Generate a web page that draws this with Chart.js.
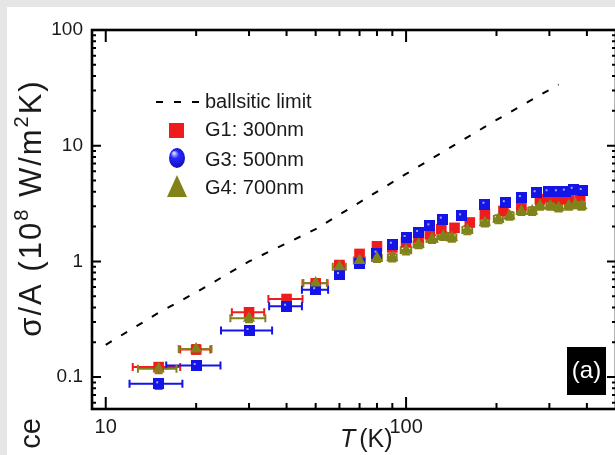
<!DOCTYPE html>
<html>
<head>
<meta charset="utf-8">
<script src="https://cdn.jsdelivr.net/npm/chart.js@4.4.0/dist/chart.umd.min.js"></script>
<style>
  html, body { margin: 0; padding: 0; background: #e6e6e6; overflow: hidden; width: 615px; height: 455px; }
  #wrap { position: absolute; left: 7px; top: 7px; width: 618px; height: 448px; background: #fff; }
</style>
</head>
<body>
<div id="wrap"><canvas id="chart" width="618" height="448"></canvas></div>
<script>
// axis ticks (log-log)
const xTickValues = [10, 20, 30, 40, 50, 60, 70, 80, 90, 100, 200, 300, 400];
const xTickLabels = [10, 100];
const yTickValues = [0.06, 0.07, 0.08, 0.09, 0.1, 0.2, 0.3, 0.4, 0.5, 0.6, 0.7, 0.8, 0.9,
  1, 2, 3, 4, 5, 6, 7, 8, 9, 10, 20, 30, 40, 50, 60, 70, 80, 90, 100];
const yTickLabels = [0.1, 1, 10, 100];

// ballistic limit
const ballT = [10, 15, 20, 30, 50, 100, 200, 322];
const ballVal = [0.19, 0.36, 0.54, 1.0, 1.9, 5.7, 16.7, 33.8];

// G1: 300nm
const g1T = [15, 20, 30, 40, 50, 60, 70, 80, 90, 100, 110, 120, 131, 145, 163, 183, 211, 242, 279, 302, 326, 350, 380];
const g1Val = [0.122, 0.173, 0.363, 0.473, 0.646, 0.93, 1.16, 1.35, 1.32, 1.46, 1.61, 1.72, 1.9, 1.95, 2.17, 2.56, 2.73, 3.02, 3.45, 3.6, 3.45, 3.45, 3.68];
const g1TErr = [2.7, 2.3, 3.7, 5.2, 4.8, 2, 2, 2, 2, 2, 2, 2, 2, 3, 3, 3, 3, 4, 4, 4, 4, 4, 4];
const g1VErr = [0.008, 0.012, 0.025, 0.03, 0.04, 0.06, 0.07, 0.08, 0.08, 0.09, 0.1, 0.1, 0.12, 0.12, 0.13, 0.15, 0.16, 0.18, 0.2, 0.2, 0.2, 0.2, 0.2];

// G3: 500nm
const g3T = [15, 20, 30, 40, 50, 60, 70, 80, 90, 100, 110, 120, 132, 153, 183, 214, 242, 271, 297, 319, 339, 360, 386];
const g3Val = [0.0875, 0.126, 0.253, 0.41, 0.57, 0.77, 0.96, 1.18, 1.41, 1.61, 1.78, 2.03, 2.32, 2.48, 3.12, 3.22, 3.56, 3.93, 4.0, 4.0, 4.05, 4.2, 4.1];
const g3TErr = [3, 4.1, 5.8, 5, 5, 2, 2, 2, 2, 2, 2, 2, 2, 3, 3, 3, 3, 4, 4, 4, 4, 4, 4];
const g3VErr = [0.008, 0.011, 0.02, 0.03, 0.04, 0.06, 0.07, 0.08, 0.1, 0.11, 0.12, 0.14, 0.16, 0.18, 0.22, 0.22, 0.25, 0.27, 0.28, 0.28, 0.28, 0.29, 0.28];

// G4: 700nm
const g4T = [15, 20, 30, 50, 60, 70, 80, 90, 100, 110, 122, 133, 142, 160, 183, 203, 221, 242, 263, 279, 302, 322, 348, 366, 384];
const g4Val = [0.118, 0.175, 0.323, 0.65, 0.9, 1.02, 1.07, 1.08, 1.25, 1.41, 1.56, 1.66, 1.61, 1.87, 2.17, 2.32, 2.48, 2.73, 2.73, 3.02, 3.02, 2.92, 3.02, 3.12, 3.02];
const g4TErr = [2.2, 2.5, 4, 4.5, 3, 3, 3, 3, 4, 4, 5, 5, 5, 6, 6, 7, 7, 8, 8, 8, 9, 9, 10, 10, 10];
const g4VErr = [0.01, 0.014, 0.025, 0.05, 0.07, 0.08, 0.08, 0.08, 0.1, 0.11, 0.12, 0.13, 0.13, 0.15, 0.17, 0.18, 0.19, 0.21, 0.21, 0.23, 0.23, 0.22, 0.23, 0.24, 0.23];

const RED = '#ee1c1c';
const BLUE = '#1414e6';
const OLIVE = '#82821a';
const INK = '#1a1a1a';
const FONT = "'Liberation Sans', Arial, sans-serif";

const toXY = (ts, vs) => ts.map((t, i) => ({ x: t, y: vs[i] }));

// blue marker: square with light spot
const blueMark = document.createElement('canvas');
blueMark.width = 11; blueMark.height = 11;
(() => {
  const c = blueMark.getContext('2d');
  c.fillStyle = BLUE; c.fillRect(0, 0, 11, 11);
  c.fillStyle = '#9aa8ff'; c.fillRect(3, 3, 2, 2);
})();

const decor = {
  id: 'decor',
  beforeDatasetsDraw(chart) {
    const { ctx, scales: { x, y } } = chart;
    chart.data.datasets.forEach(ds => {
      if (!ds.tErr) return;
      ctx.save();
      ctx.strokeStyle = ds.backgroundColor;
      ctx.lineWidth = 2;
      ds.data.forEach((p, j) => {
        const px = x.getPixelForValue(p.x), py = y.getPixelForValue(p.y);
        const te = ds.tErr[j], ve = ds.vErr[j];
        ctx.beginPath();
        if (te > 0) {
          const x1 = x.getPixelForValue(p.x - te), x2 = x.getPixelForValue(p.x + te);
          ctx.moveTo(x1, py); ctx.lineTo(x2, py);
          ctx.moveTo(x1, py - 4); ctx.lineTo(x1, py + 4);
          ctx.moveTo(x2, py - 4); ctx.lineTo(x2, py + 4);
        }
        if (ve > 0) {
          const y1 = y.getPixelForValue(p.y - ve), y2 = y.getPixelForValue(p.y + ve);
          ctx.moveTo(px, y1); ctx.lineTo(px, y2);
          ctx.moveTo(px - 4, y1); ctx.lineTo(px + 4, y1);
          ctx.moveTo(px - 4, y2); ctx.lineTo(px + 4, y2);
        }
        ctx.stroke();
      });
      ctx.restore();
    });
  },
  afterDraw(chart) {
    const { ctx, chartArea: a, scales: { x, y } } = chart;
    ctx.save();
    // frame
    ctx.strokeStyle = '#000';
    ctx.lineWidth = 2.6;
    ctx.strokeRect(a.left, a.top, a.right - a.left, a.bottom - a.top);
    // tick marks, inward on all four sides
    ctx.lineWidth = 2;
    ctx.beginPath();
    xTickValues.forEach(v => {
      const px = x.getPixelForValue(v);
      const len = xTickLabels.includes(v) ? 12 : 6;
      ctx.moveTo(px, a.bottom); ctx.lineTo(px, a.bottom - len);
      ctx.moveTo(px, a.top); ctx.lineTo(px, a.top + len);
    });
    yTickValues.forEach(v => {
      const py = y.getPixelForValue(v);
      const len = yTickLabels.includes(v) ? 9 : 4;
      ctx.moveTo(a.left, py); ctx.lineTo(a.left + len, py);
      ctx.moveTo(a.right, py); ctx.lineTo(a.right - len, py);
    });
    ctx.stroke();

    // legend
    ctx.fillStyle = INK;
    ctx.font = '20px ' + FONT;
    ctx.textBaseline = 'middle';
    ctx.textAlign = 'left';
    ctx.strokeStyle = '#000';
    ctx.lineWidth = 2;
    ctx.setLineDash([7, 11]);
    ctx.beginPath(); ctx.moveTo(149, 95); ctx.lineTo(194, 95); ctx.stroke();
    ctx.setLineDash([]);
    ctx.fillText('ballsitic limit', 198, 95);
    ctx.fillStyle = RED;
    ctx.fillRect(162, 116, 15, 15);
    const g = ctx.createRadialGradient(167, 146, 1, 170, 151, 11);
    g.addColorStop(0, '#c8d0ff'); g.addColorStop(0.3, '#2a2aff'); g.addColorStop(1, '#0a0ab0');
    ctx.fillStyle = g;
    ctx.beginPath(); ctx.ellipse(170, 151, 8, 10, 0, 0, Math.PI * 2); ctx.fill();
    ctx.fillStyle = OLIVE;
    ctx.beginPath(); ctx.moveTo(170, 168); ctx.lineTo(180, 190); ctx.lineTo(160, 190); ctx.closePath(); ctx.fill();
    ctx.fillStyle = INK;
    ctx.fillText('G1: 300nm', 198, 123);
    ctx.fillText('G3: 500nm', 198, 153);
    ctx.fillText('G4: 700nm', 198, 181);

    // x title
    ctx.textBaseline = 'alphabetic';
    ctx.font = 'italic 25px ' + FONT;
    ctx.fillText('T', 333, 440);
    const tw = ctx.measureText('T').width;
    ctx.font = '25px ' + FONT;
    ctx.fillText(' (K)', 333 + tw - 3, 440);

    // y title, rotated
    ctx.save();
    ctx.translate(23, 201);
    ctx.rotate(-Math.PI / 2);
    ctx.letterSpacing = '2px';
    const parts = [['σ/A (10', 31, 0], ['8', 20, -13], [' W/m', 31, 0], ['2', 20, -13], ['K)', 31, 0]];
    let total = 0;
    parts.forEach(p => { ctx.font = p[1] + 'px ' + FONT; total += ctx.measureText(p[0]).width; });
    let cx = -total / 2;
    parts.forEach(p => {
      ctx.font = p[1] + 'px ' + FONT;
      ctx.fillText(p[0], cx, 11 + p[2]);
      cx += ctx.measureText(p[0]).width;
    });
    ctx.restore();

    // cut-off neighbour label
    ctx.save();
    ctx.translate(23, 411);
    ctx.rotate(-Math.PI / 2);
    ctx.font = '29px ' + FONT;
    ctx.textAlign = 'right';
    ctx.fillText('ce', 0, 10);
    ctx.restore();

    // panel tag
    ctx.fillStyle = '#000';
    ctx.fillRect(560, 340, 39, 48);
    ctx.fillStyle = '#fff';
    ctx.font = '24px ' + FONT;
    ctx.textAlign = 'center';
    ctx.textBaseline = 'middle';
    ctx.fillText('(a)', 579.5, 364);
    ctx.restore();
  }
};

new Chart(document.getElementById('chart'), {
  type: 'scatter',
  data: {
    datasets: [
      {
        type: 'line', label: 'ballsitic limit', data: toXY(ballT, ballVal),
        borderColor: '#000', borderWidth: 2, borderDash: [7, 11], pointRadius: 0, fill: false, order: 4
      },
      {
        label: 'G1: 300nm', data: toXY(g1T, g1Val), tErr: g1TErr, vErr: g1VErr,
        pointStyle: 'rect', pointRadius: 7.5, backgroundColor: RED, borderColor: RED, borderWidth: 0, order: 3
      },
      {
        label: 'G3: 500nm', data: toXY(g3T, g3Val), tErr: g3TErr, vErr: g3VErr,
        pointStyle: blueMark, backgroundColor: BLUE, borderColor: BLUE, borderWidth: 0, order: 2
      },
      {
        label: 'G4: 700nm', data: toXY(g4T, g4Val), tErr: g4TErr, vErr: g4VErr,
        pointStyle: 'triangle', pointRadius: 7, backgroundColor: OLIVE, borderColor: OLIVE, borderWidth: 0, order: 1
      }
    ]
  },
  options: {
    responsive: false,
    animation: false,
    layout: { padding: { top: 23, right: 9, left: 0, bottom: 0 } },
    plugins: { legend: { display: false }, tooltip: { enabled: false } },
    scales: {
      x: {
        type: 'logarithmic', min: 9, max: 500,
        grid: { display: false, drawTicks: false }, border: { display: false },
        afterBuildTicks: s => { s.ticks = xTickValues.map(v => ({ value: v })); },
        afterFit: s => { s.height = 46; },
        ticks: {
          autoSkip: false, maxRotation: 0, padding: 6, color: INK,
          font: { family: FONT, size: 20 },
          callback: v => xTickLabels.includes(v) ? String(v) : ''
        }
      },
      y: {
        type: 'logarithmic', min: 0.053, max: 100,
        grid: { display: false, drawTicks: false }, border: { display: false },
        afterBuildTicks: s => { s.ticks = yTickValues.map(v => ({ value: v })); },
        afterFit: s => { s.width = 85; },
        ticks: {
          autoSkip: false, padding: 9, color: INK,
          font: { family: FONT, size: 19 },
          callback: v => yTickLabels.includes(v) ? String(v) : ''
        }
      }
    }
  },
  plugins: [decor]
});
</script>
</body>
</html>
